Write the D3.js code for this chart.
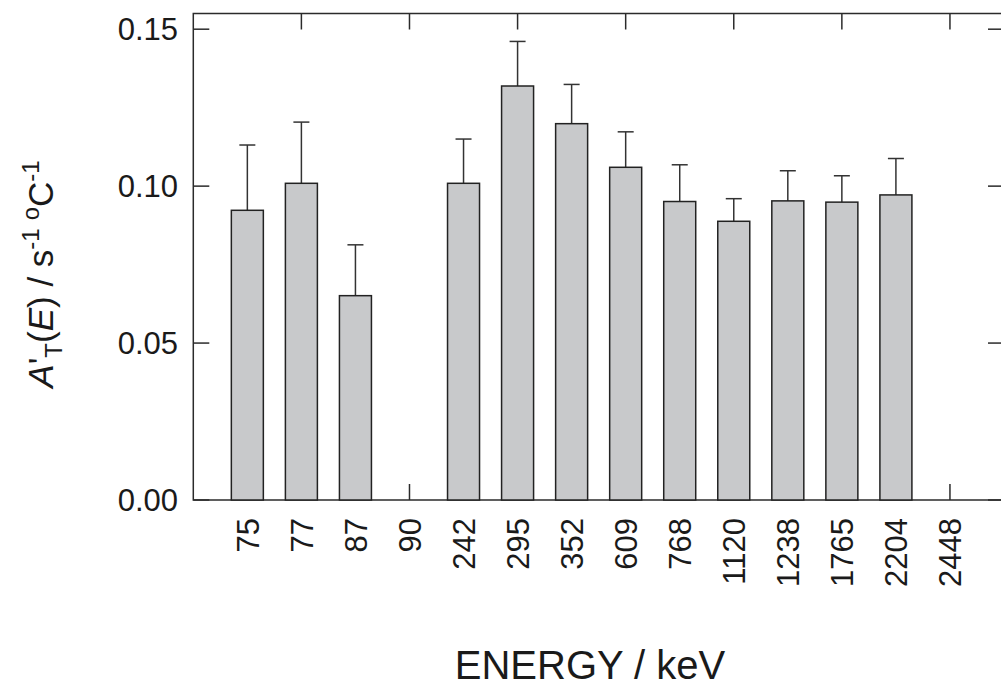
<!DOCTYPE html>
<html>
<head>
<meta charset="utf-8">
<script src="https://cdn.jsdelivr.net/npm/d3@7"></script>
<style>
  body { margin: 0; background: #fff; }
  svg { display: block; font-family: "Liberation Sans", Arial, sans-serif; }
</style>
</head>
<body>
<svg width="1001" height="697"></svg>
<script>
// data
var energies = ["75", "77", "87", "90", "242", "295", "352", "609", "768", "1120", "1238", "1765", "2204", "2448"];
var values   = [0.0923, 0.1009, 0.0651, null, 0.1009, 0.1319, 0.1199, 0.1060, 0.0951, 0.0888, 0.0953, 0.0949, 0.0972, null];
var errTops  = [0.1131, 0.1204, 0.0813, null, 0.1150, 0.1461, 0.1324, 0.1173, 0.1068, 0.0960, 0.1049, 0.1033, 0.1088, null];
var yTicks   = [0, 0.05, 0.10, 0.15];

var svg = d3.select("svg");
var plotL = 193.3, plotR = 1004, plotT = 13.5, plotB = 500;

var x = d3.scalePoint()
    .domain(energies)
    .range([plotL, plotR])
    .padding(1);
var y = d3.scaleLinear()
    .domain([0, 0.155])
    .range([plotB, plotT]);

var barW = 32, capW = 16, tickLen = 16;
var ink = "#2b2b2b";

// frame
svg.append("rect")
    .attr("x", plotL).attr("y", plotT)
    .attr("width", plotR - plotL).attr("height", plotB - plotT)
    .attr("fill", "none").attr("stroke", ink).attr("stroke-width", 1.5);

// y ticks, left and right, pointing inwards
var yt = svg.append("g");
yTicks.forEach(function (t) {
  yt.append("line").attr("x1", plotL).attr("x2", plotL + tickLen)
      .attr("y1", y(t)).attr("y2", y(t)).attr("stroke", ink).attr("stroke-width", 1.5);
  yt.append("line").attr("x1", plotR).attr("x2", plotR - tickLen)
      .attr("y1", y(t)).attr("y2", y(t)).attr("stroke", ink).attr("stroke-width", 1.5);
  yt.append("text")
      .attr("x", 178).attr("y", y(t)).attr("dy", "0.36em")
      .attr("text-anchor", "end").attr("font-size", 31).attr("fill", "#1a1a1a")
      .text(d3.format(".2f")(t));
});

// x ticks on every other category, top and bottom
var xt = svg.append("g");
energies.forEach(function (e, i) {
  if (i % 2 == 1) {
    xt.append("line").attr("x1", x(e)).attr("x2", x(e))
        .attr("y1", plotT).attr("y2", plotT + tickLen).attr("stroke", ink).attr("stroke-width", 1.5);
    xt.append("line").attr("x1", x(e)).attr("x2", x(e))
        .attr("y1", plotB).attr("y2", plotB - tickLen).attr("stroke", ink).attr("stroke-width", 1.5);
  }
  xt.append("text")
      .attr("transform", "translate(" + x(e) + "," + 518 + ") rotate(-90)")
      .attr("dy", "0.36em")
      .attr("text-anchor", "end").attr("font-size", 31).attr("fill", "#1a1a1a")
      .text(e);
});

// error bars (upper only)
var pts = energies.map(function (e, i) { return {e: e, v: values[i], hi: errTops[i]}; })
    .filter(function (d) { return d.v != null; });

var eb = svg.append("g").attr("stroke", "#333").attr("stroke-width", 1.5);
pts.forEach(function (d) {
  eb.append("line").attr("x1", x(d.e)).attr("x2", x(d.e)).attr("y1", y(d.v)).attr("y2", y(d.hi));
  eb.append("line").attr("x1", x(d.e) - capW / 2).attr("x2", x(d.e) + capW / 2)
      .attr("y1", y(d.hi)).attr("y2", y(d.hi));
});

// bars
svg.append("g").selectAll("rect")
    .data(pts).enter()
    .append("rect")
    .attr("x", function (d) { return x(d.e) - barW / 2; })
    .attr("y", function (d) { return y(d.v); })
    .attr("width", barW)
    .attr("height", function (d) { return y(0) - y(d.v); })
    .attr("fill", "#c8c9cb")
    .attr("stroke", "#222").attr("stroke-width", 1.5);

// axis titles
svg.append("text")
    .attr("x", 590).attr("y", 679)
    .attr("text-anchor", "middle").attr("font-size", 40).attr("fill", "#1a1a1a")
    .text("ENERGY / keV");

var yl = svg.append("text")
    .attr("transform", "translate(53,274) rotate(-90)")
    .attr("text-anchor", "middle").attr("font-size", 35).attr("fill", "#1a1a1a");
yl.append("tspan").attr("font-style", "italic").text("A");
yl.append("tspan").text("'");
yl.append("tspan").attr("font-size", 24).attr("dy", 9).text("T");
yl.append("tspan").attr("dy", -9).text("(");
yl.append("tspan").attr("font-style", "italic").text("E");
yl.append("tspan").text(") / s");
yl.append("tspan").attr("font-size", 24).attr("dy", -14).text("-1");
yl.append("tspan").attr("font-size", 24).attr("dx", 8).text("o");
yl.append("tspan").attr("dy", 14).text("C");
yl.append("tspan").attr("font-size", 24).attr("dy", -14).text("-1");
</script>
</body>
</html>
